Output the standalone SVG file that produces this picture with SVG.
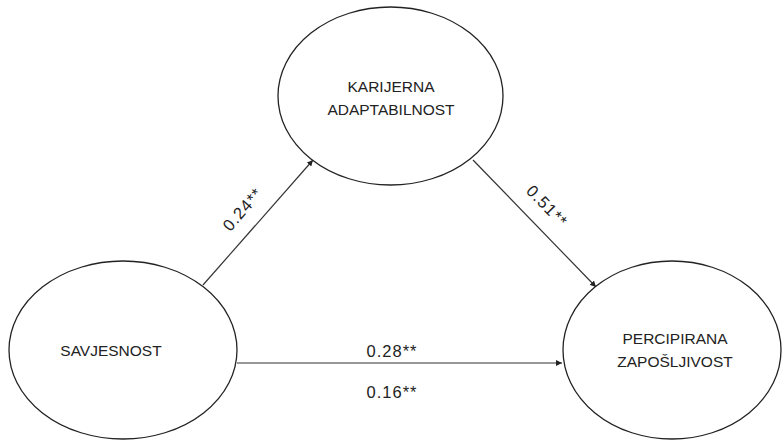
<svg xmlns="http://www.w3.org/2000/svg" width="782" height="441" viewBox="0 0 782 441">
<style>
.node{fill:#fff;stroke:#222;stroke-width:1.3}
.lbl{font-family:"Liberation Sans","Open Sans",Arial,sans-serif;font-size:15.5px;fill:#222;text-anchor:middle}
.num{font-family:"Liberation Sans","Open Sans",Arial,sans-serif;font-size:16.5px;letter-spacing:1px;fill:#222;text-anchor:middle}
.edge{stroke:#333;stroke-width:1.2;fill:none;marker-end:url(#ah)}
</style>
<defs>
<marker id="ah" viewBox="0 0 10 10" refX="10" refY="5" markerWidth="6" markerHeight="6" markerUnits="userSpaceOnUse" orient="auto">
<path d="M0,0 L10,5 L0,10 z" fill="#222"/>
</marker>
</defs>
<rect width="782" height="441" fill="#fff"/>
<g id="connectors">
<line class="edge" x1="203" y1="285" x2="313" y2="160"/>
<line class="edge" x1="473" y1="160" x2="596" y2="287"/>
<line class="edge" x1="237" y1="363" x2="562" y2="363"/>
<text class="num" transform="translate(247,213) rotate(-49)">0.24**</text>
<text class="num" transform="translate(543,210) rotate(46)">0.51**</text>
<text class="num" x="392" y="357">0.28**</text>
<text class="num" x="392" y="398">0.16**</text>
</g>
<g id="karijerna">
<ellipse class="node" cx="390.5" cy="96" rx="112.5" ry="89"/>
<text class="lbl" x="391" y="92">KARIJERNA</text>
<text class="lbl" x="391" y="115">ADAPTABILNOST</text>
</g>
<g id="savjesnost">
<ellipse class="node" cx="123" cy="350" rx="114" ry="89"/>
<text class="lbl" x="111" y="356">SAVJESNOST</text>
</g>
<g id="percipirana">
<ellipse class="node" cx="672" cy="350" rx="109" ry="89"/>
<text class="lbl" x="675" y="344">PERCIPIRANA</text>
<text class="lbl" x="675" y="367">ZAPOŠLJIVOST</text>
</g>
</svg>
